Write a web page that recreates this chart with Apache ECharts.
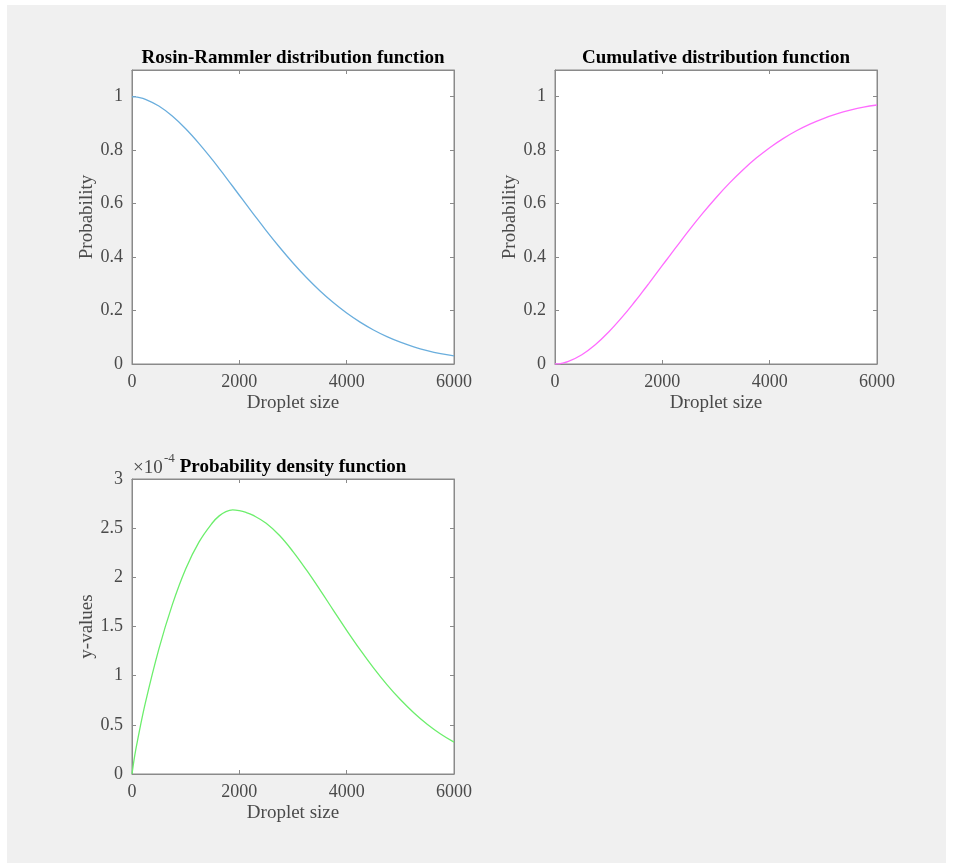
<!DOCTYPE html>
<html>
<head>
<meta charset="utf-8">
<script src="https://cdn.jsdelivr.net/npm/echarts@6/dist/echarts.min.js"></script>
<style>
html,body{margin:0;padding:0;background:#fff;}
#c{width:954px;height:863px;}
</style>
</head>
<body>
<div id="c"></div>
<script>
// Droplet sizes (x) shared by all three panels
const dropletSize = [0, 50, 100, 250, 500, 750, 1000, 1250, 1500, 1625, 1750, 1875, 2000, 2125, 2250, 2500, 2750, 3000, 3250, 3500, 3750, 4000, 4250, 4500, 4750, 5000, 5250, 5500, 5750, 6000];
// Rosin-Rammler distribution function (probability)
const rosinRammler = [1, 0.9995, 0.9982, 0.9902, 0.9652, 0.9278, 0.8802, 0.8247, 0.7634, 0.7312, 0.6983, 0.6650, 0.6314, 0.5979, 0.5646, 0.4992, 0.4367, 0.3778, 0.3234, 0.2740, 0.2297, 0.1906, 0.1566, 0.1273, 0.1025, 0.0817, 0.0645, 0.0504, 0.0390, 0.0305];
// Cumulative distribution function (probability)
const cumulative = [0, 0.0005, 0.0018, 0.0098, 0.0348, 0.0722, 0.1198, 0.1753, 0.2366, 0.2688, 0.3017, 0.3350, 0.3686, 0.4021, 0.4354, 0.5008, 0.5633, 0.6222, 0.6766, 0.7260, 0.7703, 0.8094, 0.8434, 0.8727, 0.8975, 0.9183, 0.9355, 0.9496, 0.9610, 0.9690];
// Probability density function (y-values)
const density = [0, 1.85e-5, 3.33e-5, 7.25e-5, 1.27e-4, 1.72e-4, 2.085e-4, 2.36e-4, 2.555e-4, 2.625e-4, 2.668e-4, 2.686e-4, 2.678e-4, 2.66e-4, 2.632e-4, 2.55e-4, 2.425e-4, 2.262e-4, 2.075e-4, 1.875e-4, 1.667e-4, 1.461e-4, 1.264e-4, 1.079e-4, 9.09e-5, 7.57e-5, 6.23e-5, 5.06e-5, 4.07e-5, 3.24e-5];

const titles = ['Rosin-Rammler distribution function', 'Cumulative distribution function', 'Probability density function'];
const xLabel = 'Droplet size';
const yLabels = ['Probability', 'Probability', 'y-values'];
const expLabel = ['\u00d710', '-4'];

const FONT = '"Liberation Serif", "Times New Roman", serif';
const AXIS_COLOR = '#8a8a8a';
const LABEL_COLOR = '#4a4a4a';

const grids = [
  {left: 132, top: 70, width: 322, height: 294},
  {left: 555, top: 70, width: 322, height: 294},
  {left: 132, top: 479, width: 322, height: 295}
];

function pair(ys){ return dropletSize.map((x,i)=>[x, ys[i]]); }

const xAxes = [], yAxes = [];
const yCfg = [
  {max: 1.1, interval: 0.2, fmt: v => String(+v.toFixed(2))},
  {max: 1.1, interval: 0.2, fmt: v => String(+v.toFixed(2))},
  {max: 3e-4, interval: 0.5e-4, fmt: v => String(+(v*1e4).toFixed(2))}
];
const tick = {show: true, inside: true, length: 4, lineStyle: {color: AXIS_COLOR, width: 1}};
grids.forEach((g, i) => {
  xAxes.push({
    type: 'value', gridIndex: i, position: 'bottom', min: 0, max: 6000, interval: 2000,
    axisLine: {show: true, onZero: false, lineStyle: {color: AXIS_COLOR, width: 1}},
    axisTick: tick,
    splitLine: {show: false},
    axisLabel: {color: LABEL_COLOR, fontFamily: FONT, fontSize: 18, margin: 9, formatter: v => String(v)},
    name: xLabel, nameLocation: 'middle', nameGap: 30,
    nameTextStyle: {color: LABEL_COLOR, fontFamily: FONT, fontSize: 19}
  });
  xAxes.push({
    type: 'value', gridIndex: i, position: 'top', min: 0, max: 6000, interval: 2000,
    axisLine: {show: true, onZero: false, lineStyle: {color: AXIS_COLOR, width: 1}},
    axisTick: tick,
    splitLine: {show: false}, axisLabel: {show: false}
  });
  const c = yCfg[i];
  yAxes.push({
    type: 'value', gridIndex: i, position: 'left', min: 0, max: c.max, interval: c.interval,
    axisLine: {show: true, onZero: false, lineStyle: {color: AXIS_COLOR, width: 1}},
    axisTick: tick,
    splitLine: {show: false},
    axisLabel: {color: LABEL_COLOR, fontFamily: FONT, fontSize: 18, margin: 9, formatter: c.fmt, showMaxLabel: i === 2},
    name: yLabels[i], nameLocation: 'middle', nameGap: 35, nameRotate: 90,
    nameTextStyle: {color: LABEL_COLOR, fontFamily: FONT, fontSize: 19}
  });
  yAxes.push({
    type: 'value', gridIndex: i, position: 'right', min: 0, max: c.max, interval: c.interval,
    axisLine: {show: true, onZero: false, lineStyle: {color: AXIS_COLOR, width: 1}},
    axisTick: tick,
    splitLine: {show: false}, axisLabel: {show: false}
  });
});

const colors = ['#6aaedd', '#ff6cff', '#6cee6c'];
const datasets = [rosinRammler, cumulative, density];
const series = datasets.map((d, i) => ({
  type: 'line', xAxisIndex: i*2, yAxisIndex: i*2, data: pair(d),
  showSymbol: false, smooth: 0.4, lineStyle: {color: colors[i], width: 1.3}, silent: true
}));

const graphic = [
  {type: 'rect', shape: {x: 7, y: 5, width: 939, height: 858}, style: {fill: '#f0f0f0'}, z: -10, silent: true}
];
grids.forEach((g, i) => {
  graphic.push({type: 'text', x: g.left + g.width/2, y: g.top - 12, z: 10,
    style: {text: titles[i], textAlign: 'center', textVerticalAlign: 'middle', font: 'bold 19px ' + FONT, fill: '#000'}});
});
graphic.push({type: 'text', x: 133, y: 468, z: 10,
  style: {text: expLabel[0], textAlign: 'left', textVerticalAlign: 'middle', font: '19px ' + FONT, fill: LABEL_COLOR}});
graphic.push({type: 'text', x: 164, y: 459, z: 10,
  style: {text: expLabel[1], textAlign: 'left', textVerticalAlign: 'middle', font: '13px ' + FONT, fill: LABEL_COLOR}});

const chart = echarts.init(document.getElementById('c'), null, {renderer: 'canvas'});
chart.setOption({
  animation: false,
  backgroundColor: '#ffffff',
  grid: grids.map(g => Object.assign({show: true, backgroundColor: '#ffffff', borderColor: AXIS_COLOR, borderWidth: 1, containLabel: false}, g)),
  xAxis: xAxes,
  yAxis: yAxes,
  series: series,
  graphic: graphic
});
</script>
</body>
</html>
